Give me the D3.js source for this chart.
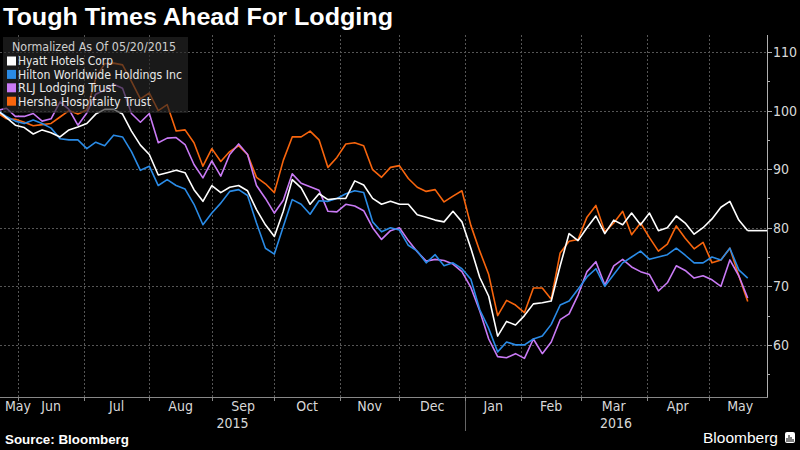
<!DOCTYPE html>
<html><head><meta charset="utf-8">
<script src="https://cdn.jsdelivr.net/npm/d3@7/dist/d3.min.js"></script>
<style>html,body{margin:0;padding:0;background:#000;}svg{display:block}</style>
</head><body>
<svg id="chart" width="800" height="450"></svg>
<script>
// ---------- data ----------
const seriesNames = ["Hyatt Hotels Corp", "Hilton Worldwide Holdings Inc", "RLJ Lodging Trust", "Hersha Hospitality Trust"];
const seriesColors = ["#ffffff", "#2a8be6", "#c97af5", "#f8650d"];
const sampleStep = 3; // trading days between samples, starting 05/20/2015

const hyatt = [100,98.8,97.5,97.1,96,96.7,96.2,95.5,96.7,97.2,97.8,99.4,100.2,100.2,99.4,96.5,94.1,92.5,89,89.4,89.8,89.4,86.5,84.5,87.2,86,86.9,87.2,86.3,83.1,80.5,78.5,82.8,88.2,86.8,84,85.8,84.8,85,85,88,87.3,85,84,84.5,84,84,82.2,81.8,81.3,81,82.8,81,76.5,71.5,68.3,61.5,64,63.4,65,67,67.2,67.5,73.5,79,77.8,80,82,79,81.3,80.5,82.5,80.5,82.5,79.5,80,82,80.8,78.9,80,81.5,83.5,84.5,81.3,79.5];
const hilton = [100,99,98.2,97.8,98.4,97.8,97,95.2,95,95,93.5,94.6,94,95.8,95.5,93,89.8,90.5,87.2,88.2,87.2,86.6,84,80.5,82.5,84.2,86.2,86.5,85.5,80.8,76.5,75.5,80.2,84.8,84,82.3,84.6,84.5,85,85.8,86.3,86,81,79.3,80,79.6,77,76,74,75.4,73.5,74,73,71.2,66,62.8,58.8,60.5,60,60,61,61.5,63.5,66.8,67.5,69.5,71.6,73,70,72,74,75,76,74.6,75,75.4,76.5,75.3,74,74,75,74.5,76.5,72.8,71.4];
const rlj = [100,100.4,99,99,99.5,98.2,98.6,101.5,100.2,97.5,99.6,102.8,103.5,104.5,103.8,99.5,98,99.5,94.5,95.3,95.4,94.2,90.8,88.5,91.4,88.8,92.5,94.3,92.5,87.2,85,82.5,84.7,89.2,87.6,87,86.4,82.8,82.7,84,83.7,82.9,80,78,79.5,80,77.8,75.9,74.3,74.6,74.4,73.8,72.5,69.8,65.8,61,58,57.8,58.5,57.7,61,58.5,60.5,64.3,65.3,68.5,72.5,74.2,70.2,73.5,74.6,73.3,72.5,72,69.2,70.6,73.5,72.7,71.4,71.8,71.1,70,74.5,71.8,68];
const hersha = [99.6,98.6,98.5,98,97.4,97.6,97.8,98.9,100,99.4,100.1,105.5,108,108.1,107.8,105,102,103,100,101,96.5,96.7,94.5,90.5,93.5,91.3,93,94,92.5,88.6,87.5,86,91.5,95.5,95.5,96.5,95,90.3,92,94.3,94.5,94,89.9,88.6,90.3,90.6,88.4,86.9,86.2,86.5,84.4,85.4,86.3,80.4,76,72,65,67.6,66.8,65.5,69.7,69.7,67.8,75.7,77.7,78,81.8,83.8,79.3,80.8,82.8,78.8,80.8,78.3,76,77.2,80.3,78.2,76.4,77.5,74,74.5,76.5,71.8,67.4];

const monthLabels = ["May", "Jun", "Jul", "Aug", "Sep", "Oct", "Nov", "Dec", "Jan", "Feb", "Mar", "Apr", "May"];
const monthStarts = [-13, 7, 29, 51, 72, 93, 115, 135, 157, 176, 196, 218, 239, 260]; // trading-day index of month boundaries
const yearLabels = ["2015", "2016"];
const yearStartMonth = [0, 8];
const yTicks = [60, 70, 80, 90, 100, 110];
const yMinorTicks = [55, 65, 75, 85, 95, 105];

// ---------- layout ----------
const W = 800, H = 450;
const plotL = 0, plotR = 767, plotT = 35, plotB = 397;
const svg = d3.select("#chart");
const NARROW = "'Liberation Sans Narrow','DejaVu Sans Condensed','Arial Narrow',sans-serif";
const SANS = "'Liberation Sans',Arial,sans-serif";

svg.append("rect").attr("width", W).attr("height", H).attr("fill", "#000");

const x = d3.scaleLinear().domain([0, 253]).range([-2.5, 750.7]);
const y = d3.scaleLinear().domain([51.1, 112.9]).range([plotB, plotT]);

// title
svg.append("text").attr("x", 3).attr("y", 25)
  .attr("font-family", SANS).attr("font-weight", "bold").attr("font-size", 23.5)
  .attr("textLength", 390).attr("lengthAdjust", "spacingAndGlyphs")
  .attr("fill", "#fff").text("Tough Times Ahead For Lodging");

// grid
const grid = svg.append("g");
grid.selectAll("line.h").data(yTicks).join("line")
  .attr("x1", plotL).attr("x2", plotR)
  .attr("y1", d => Math.round(y(d)) + 0.5).attr("y2", d => Math.round(y(d)) + 0.5)
  .attr("stroke", "#555").attr("stroke-width", 1).attr("stroke-dasharray", "2,2");
const innerTicks = monthStarts.slice(1, -1);
grid.selectAll("line.v").data(innerTicks).join("line")
  .attr("x1", d => Math.round(x(d)) + 0.5).attr("x2", d => Math.round(x(d)) + 0.5)
  .attr("y1", plotT).attr("y2", plotB)
  .attr("stroke", "#555").attr("stroke-width", 1).attr("stroke-dasharray", "2,2");

// lines
svg.append("clipPath").attr("id", "clip").append("rect")
  .attr("x", plotL).attr("y", plotT - 10).attr("width", plotR - plotL).attr("height", plotB - plotT + 10);
const allSeries = [hersha, rlj, hilton, hyatt];
const allColors = [seriesColors[3], seriesColors[2], seriesColors[1], seriesColors[0]];
const line = d3.line().x((d, i) => x(i * sampleStep)).y(d => y(d));
const lg = svg.append("g").attr("clip-path", "url(#clip)");
allSeries.forEach((s, k) => {
  lg.append("path").datum(s).attr("d", line)
    .attr("fill", "none").attr("stroke", allColors[k]).attr("stroke-width", 1.6)
    .attr("stroke-linejoin", "round");
});
// Hyatt last-value extension to axis
lg.append("line")
  .attr("x1", x((hyatt.length - 1) * sampleStep)).attr("x2", plotR)
  .attr("y1", y(hyatt[hyatt.length - 1])).attr("y2", y(hyatt[hyatt.length - 1]))
  .attr("stroke", seriesColors[0]).attr("stroke-width", 1.6);

// axes
const axisColor = "#b0b0b0";
svg.append("line").attr("x1", plotR + 0.5).attr("x2", plotR + 0.5).attr("y1", plotT).attr("y2", plotB + 0.5)
  .attr("stroke", axisColor).attr("stroke-width", 1);
svg.append("line").attr("x1", plotL).attr("x2", plotR + 1).attr("y1", plotB + 0.5).attr("y2", plotB + 0.5)
  .attr("stroke", "#888").attr("stroke-width", 1);

const yAxis = svg.append("g");
yAxis.selectAll("line.maj").data(yTicks).join("line")
  .attr("x1", plotR).attr("x2", plotR + 5)
  .attr("y1", d => Math.round(y(d)) + 0.5).attr("y2", d => Math.round(y(d)) + 0.5)
  .attr("stroke", axisColor);
yAxis.selectAll("line.min").data(yMinorTicks).join("line")
  .attr("x1", plotR).attr("x2", plotR + 3)
  .attr("y1", d => Math.round(y(d)) + 0.5).attr("y2", d => Math.round(y(d)) + 0.5)
  .attr("stroke", axisColor);
yAxis.selectAll("text").data(yTicks).join("text")
  .attr("x", plotR + 6).attr("y", d => y(d) + 5)
  .attr("font-family", NARROW).attr("font-size", 14).attr("fill", "#d8d8d8")
  .text(d => d);

// x ticks
svg.append("g").selectAll("line").data(innerTicks).join("line")
  .attr("x1", d => Math.round(x(d)) + 0.5).attr("x2", d => Math.round(x(d)) + 0.5)
  .attr("y1", plotB).attr("y2", plotB + 4)
  .attr("stroke", "#888");

// month labels
svg.append("g").selectAll("text").data(monthLabels).join("text")
  .attr("x", (d, i) => i === 0 ? 5 : x((monthStarts[i] + monthStarts[i + 1]) / 2))
  .attr("text-anchor", (d, i) => i === 0 ? "start" : "middle")
  .attr("y", 411)
  .attr("font-family", NARROW).attr("font-size", 14).attr("fill", "#d8d8d8")
  .text(d => d);

// year labels
const yearBoundary = x(monthStarts[yearStartMonth[1]]);
svg.append("line").attr("x1", Math.round(yearBoundary) + 0.5).attr("x2", Math.round(yearBoundary) + 0.5)
  .attr("y1", plotB + 4).attr("y2", 431).attr("stroke", "#666");
svg.append("g").selectAll("text").data(yearLabels).join("text")
  .attr("x", (d, i) => i === 0 ? (plotL + yearBoundary) / 2 : (yearBoundary + plotR) / 2)
  .attr("y", 428).attr("text-anchor", "middle")
  .attr("font-family", NARROW).attr("font-size", 14).attr("fill", "#d8d8d8")
  .text(d => d);

// legend
const leg = svg.append("g");
leg.append("rect").attr("x", 3).attr("y", 37).attr("width", 185).attr("height", 76)
  .attr("fill", "#262626").attr("fill-opacity", 0.65);
leg.append("text").attr("x", 12).attr("y", 51)
  .attr("font-family", NARROW).attr("font-size", 12.4).attr("fill", "#cfcfcf")
  .attr("textLength", 164).attr("lengthAdjust", "spacingAndGlyphs")
  .text("Normalized As Of 05/20/2015");
const legendTextLen = [95, 164, 98, 133];
seriesNames.forEach((n, i) => {
  const yy = 61 + i * 13.4;
  leg.append("rect").attr("x", 7).attr("y", yy - 4.5).attr("width", 9).attr("height", 9).attr("fill", seriesColors[i]);
  leg.append("text").attr("x", 18).attr("y", yy + 4.3)
    .attr("font-family", NARROW).attr("font-size", 11.8).attr("fill", "#e8e8e8")
    .attr("textLength", legendTextLen[i]).attr("lengthAdjust", "spacingAndGlyphs")
    .text(n);
});

// footer
svg.append("text").attr("x", 5).attr("y", 444)
  .attr("font-family", SANS).attr("font-weight", "bold").attr("font-size", 12)
  .attr("textLength", 124).attr("lengthAdjust", "spacingAndGlyphs")
  .attr("fill", "#fff").text("Source: Bloomberg");
svg.append("text").attr("x", 778).attr("y", 443).attr("text-anchor", "end")
  .attr("font-family", SANS).attr("font-size", 15.5).attr("fill", "#fff")
  .text("Bloomberg");
const ic = svg.append("g");
ic.append("rect").attr("x", 785).attr("y", 432).attr("width", 10).attr("height", 11).attr("rx", 2).attr("fill", "#fff");
[[787, 438, 4], [789, 435, 7], [791, 437, 5], [793, 439, 3]].forEach(b => {
  ic.append("rect").attr("x", b[0] - 0.5).attr("y", b[1]).attr("width", 1).attr("height", b[2]).attr("fill", "#000");
});
</script>
</body></html>
